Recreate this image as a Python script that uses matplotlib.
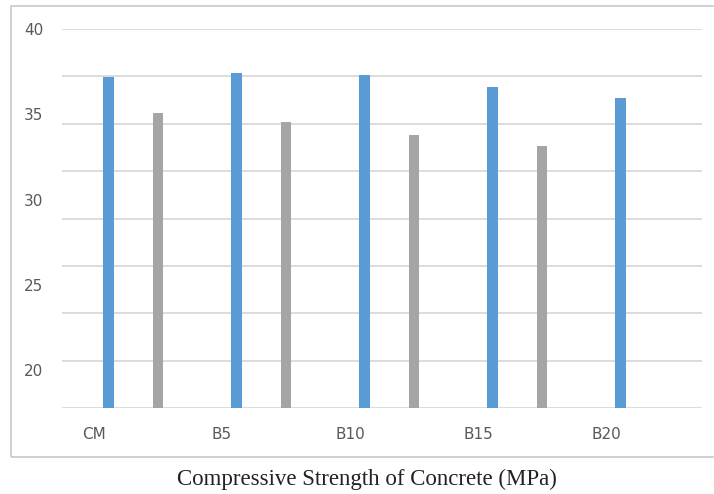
import numpy as np
import matplotlib
matplotlib.use("Agg")
import matplotlib.pyplot as plt
from matplotlib.patches import Rectangle

# values
categories = ["CM", "B5", "B10", "B15", "B20"]
blue_vals = [37.17, 37.44, 37.28, 36.62, 35.94]
gray_vals = [35.05, 34.56, 33.78, 33.16, None]
ytick_vals = [40, 35, 30, 25, 20]

ymin, ymax = 17.78, 40
grid_vals = np.linspace(ymin, ymax, 9)

fig = plt.figure(figsize=(7.14, 4.94), dpi=100)
ax = fig.add_axes([62/714, 1-408/494, 640/714, 379/494])

# outer chart frame
fig.patches.append(Rectangle((11.5/714, 1-457/494), 1.0, 451/494,
                             transform=fig.transFigure, fill=False,
                             edgecolor="#c8c8c8", linewidth=1.2))

x = np.arange(len(categories))
w = 0.085
for xi, v in zip(x, blue_vals):
    ax.bar(xi, v - ymin, bottom=ymin, width=w, color="#5b9bd5", zorder=3)
for xi, v in zip(x, gray_vals):
    if v is not None:
        ax.bar(xi + 0.39, v - ymin, bottom=ymin, width=w, color="#a5a5a5", zorder=3)

for g in grid_vals:
    ax.axhline(g, color="#d9d9d9", linewidth=1.3, zorder=1)

ax.set_xlim(-0.36, 4.64)
ax.set_ylim(ymin, ymax)
for s in ax.spines.values():
    s.set_visible(False)

ax.set_yticks(ytick_vals)
ax.set_yticklabels([str(v) for v in ytick_vals])
ax.set_xticks(x - 0.11)
ax.set_xticklabels(categories)
ax.tick_params(axis="y", length=0, pad=13.5, labelsize=11, labelcolor="#595959")
ax.tick_params(axis="x", length=0, pad=14, labelsize=11, labelcolor="#595959")

fig.text(367/714, 1-479/494, "Compressive Strength of Concrete (MPa)",
         ha="center", va="center", fontsize=16.5, family="Liberation Serif",
         color="#222222")

fig.savefig("out.png", dpi=100)
